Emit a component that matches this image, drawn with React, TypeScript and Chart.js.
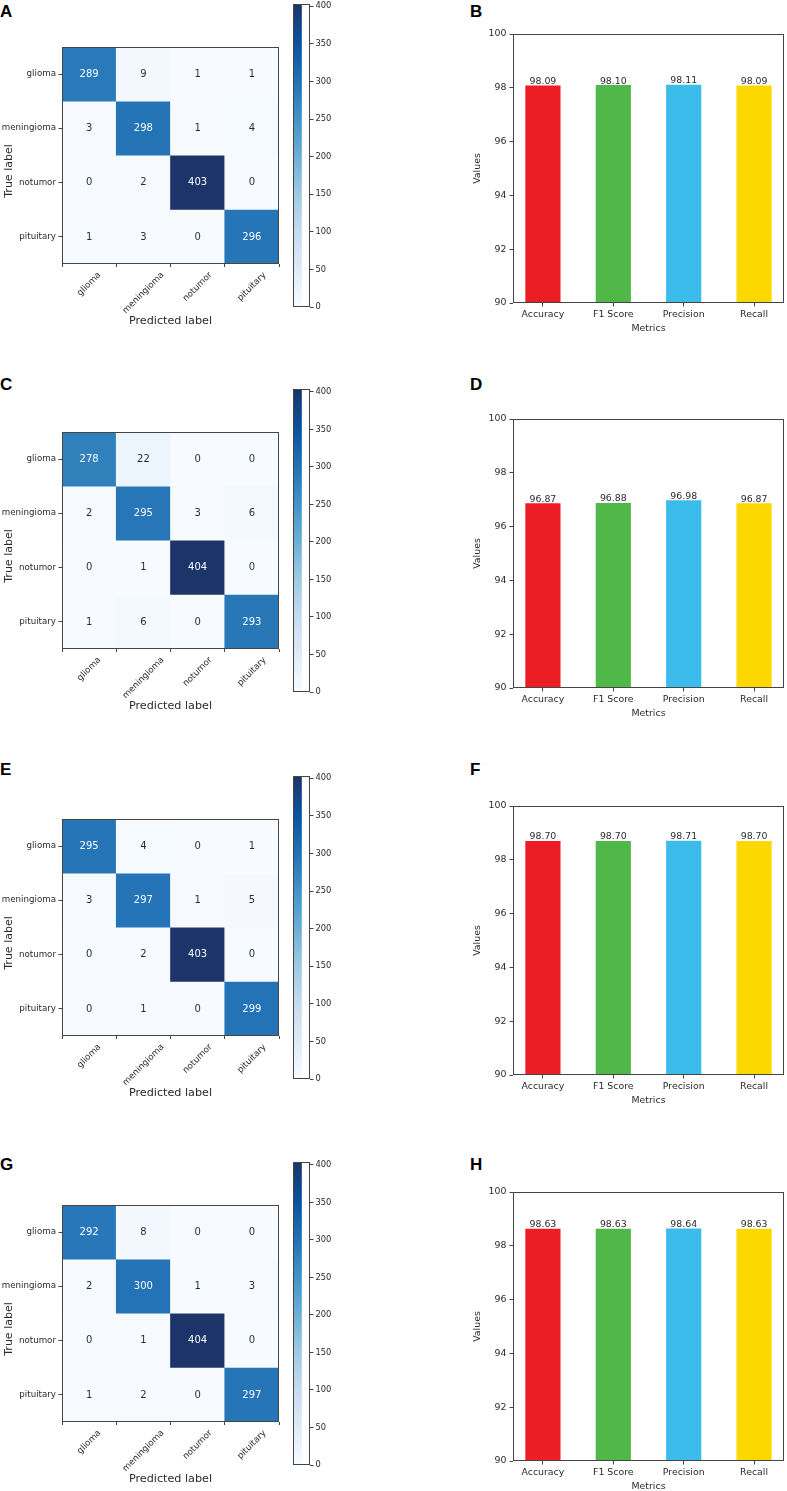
import React, { useEffect, useRef } from 'react';
import { Chart, registerables } from 'chart.js';

Chart.register(...registerables);

// ---------- data ----------
const classLabels = ['glioma', 'meningioma', 'notumor', 'pituitary'];
const matrixA = [
  [289, 9, 1, 1],
  [3, 298, 1, 4],
  [0, 2, 403, 0],
  [1, 3, 0, 296],
];
const matrixC = [
  [278, 22, 0, 0],
  [2, 295, 3, 6],
  [0, 1, 404, 0],
  [1, 6, 0, 293],
];
const matrixE = [
  [295, 4, 0, 1],
  [3, 297, 1, 5],
  [0, 2, 403, 0],
  [0, 1, 0, 299],
];
const matrixG = [
  [292, 8, 0, 0],
  [2, 300, 1, 3],
  [0, 1, 404, 0],
  [1, 2, 0, 297],
];
const colorbarTicks = [0, 50, 100, 150, 200, 250, 300, 350, 400];

const metricLabels = ['Accuracy', 'F1 Score', 'Precision', 'Recall'];
const metricsB = [98.09, 98.1, 98.11, 98.09];
const metricsD = [96.87, 96.88, 96.98, 96.87];
const metricsF = [98.7, 98.7, 98.71, 98.7];
const metricsH = [98.63, 98.63, 98.64, 98.63];
const metricTicks = [90, 92, 94, 96, 98, 100];
const barColors = ['#ED1D25', '#50B848', '#3BBCEB', '#FDD800'];

const panelLetters = [
  ['A', 'B'],
  ['C', 'D'],
  ['E', 'F'],
  ['G', 'H'],
];

// ---------- layout / style ----------
const FONT = "'DejaVu Sans', sans-serif";
const TEXT = '#2a2a2a';
const FRAME = '#454545';
const rowTops = [47, 432, 819, 1205]; // top of each confusion matrix
const letterTops = [5, 378, 763, 1158];

const BLUES = [
  [247, 251, 255],
  [222, 235, 247],
  [198, 219, 239],
  [158, 202, 225],
  [107, 174, 214],
  [66, 146, 198],
  [33, 113, 181],
  [10, 82, 156],
  [28, 52, 106],
];
function blues(t: number): string {
  const tt = Math.max(0, Math.min(1, t));
  const p = tt * 8;
  const i = Math.min(7, Math.floor(p));
  const f = p - i;
  const a = BLUES[i];
  const b = BLUES[i + 1];
  const c = [0, 1, 2].map((k) => Math.round(a[k] + (b[k] - a[k]) * f));
  return `rgb(${c[0]},${c[1]},${c[2]})`;
}

const framePlugin = {
  id: 'frame',
  afterDraw(chart: any) {
    const { ctx, chartArea: a } = chart;
    ctx.save();
    ctx.strokeStyle = FRAME;
    ctx.lineWidth = 1;
    ctx.strokeRect(Math.round(a.left) + 0.5, Math.round(a.top) + 0.5, Math.round(a.right - a.left) - 1, Math.round(a.bottom - a.top) - 1);
    ctx.restore();
  },
};

function ChartCanvas({ left, top, width, height, make }: { left: number; top: number; width: number; height: number; make: () => any }) {
  const ref = useRef<HTMLCanvasElement>(null);
  useEffect(() => {
    if (!ref.current) return;
    const ch = new Chart(ref.current, make());
    return () => ch.destroy();
  }, []);
  return (
    <canvas
      ref={ref}
      width={width}
      height={height}
      style={{ position: 'absolute', left, top, width, height, display: 'block' }}
    />
  );
}

function matrixConfig(matrix: number[][]) {
  const vmax = Math.max(...matrix.flat());
  const tickFont = 8.7;
  return {
    type: 'bar',
    data: {
      labels: classLabels,
      datasets: matrix.map((row, r) => ({
        data: row.map(() => [r - 0.5, r + 0.5]),
        backgroundColor: row.map((v) => blues(v / vmax)),
        borderWidth: 0,
        borderSkipped: false,
        barPercentage: 1,
        categoryPercentage: 1,
        grouped: false,
      })),
    },
    options: {
      animation: false,
      responsive: false,
      maintainAspectRatio: false,
      layout: { padding: { top: 40, left: 0, right: 11, bottom: 0 } },
      plugins: { legend: { display: false }, tooltip: { enabled: false } },
      scales: {
        x: {
          type: 'category',
          offset: true,
          grid: { display: true, drawOnChartArea: false, drawTicks: true, tickLength: 3.5, color: FRAME },
          border: { display: false },
          ticks: { display: false },
          title: { display: true, text: 'Predicted label', color: TEXT, font: { family: FONT, size: 11.2 }, padding: 0 },
          afterFit: (s: any) => {
            s.height = 64.5;
          },
        },
        y: {
          type: 'linear',
          min: -0.5,
          max: 3.5,
          reverse: true,
          afterBuildTicks: (s: any) => {
            s.ticks = classLabels.map((_, i) => ({ value: i }));
          },
          ticks: {
            callback: (v: number) => classLabels[v],
            color: TEXT,
            font: { family: FONT, size: tickFont },
            padding: 2.5,
            autoSkip: false,
          },
          grid: { display: true, drawOnChartArea: false, drawTicks: true, tickLength: 3.5, color: FRAME },
          border: { display: false },
          afterFit: (s: any) => {
            s.width = 62;
          },
        },
      },
    },
    plugins: [
      framePlugin,
      {
        id: 'cellText',
        afterDatasetsDraw(chart: any) {
          const ctx = chart.ctx;
          ctx.save();
          ctx.font = `10px ${FONT}`;
          ctx.textAlign = 'center';
          ctx.textBaseline = 'middle';
          matrix.forEach((row, r) => {
            const meta = chart.getDatasetMeta(r);
            row.forEach((v, c) => {
              const el = meta.data[c];
              ctx.fillStyle = v > vmax / 2 ? blues(0) : '#1c2c4c';
              ctx.fillText(String(v), el.x, (el.y + el.base) / 2 + 0.5);
            });
          });
          ctx.restore();
        },
      },
      {
        id: 'rotatedLabels',
        afterDraw(chart: any) {
          const { ctx, chartArea } = chart;
          const xs = chart.scales.x;
          ctx.save();
          ctx.font = `${tickFont}px ${FONT}`;
          ctx.fillStyle = TEXT;
          ctx.textAlign = 'center';
          ctx.textBaseline = 'middle';
          classLabels.forEach((lab, i) => {
            const x = xs.getPixelForTick(i);
            const w = ctx.measureText(lab).width;
            const h = tickFont * 1.05;
            const bb = (w + h) * Math.SQRT1_2;
            const cy = chartArea.bottom + 7 + bb / 2;
            ctx.save();
            ctx.translate(x, cy);
            ctx.rotate(-Math.PI / 4);
            ctx.fillText(lab, 0, 0);
            ctx.restore();
          });
          // y axis title
          ctx.font = `11px ${FONT}`;
          ctx.save();
          ctx.translate(9, chartArea.top + 124);
          ctx.rotate(-Math.PI / 2);
          ctx.fillText('True label', 0, 0);
          ctx.restore();
          ctx.restore();
        },
      },
    ],
  };
}

function colorbarConfig(matrix: number[][]) {
  const vmax = Math.max(...matrix.flat());
  return {
    type: 'bar',
    data: {
      labels: [''],
      datasets: [
        {
          data: [[0, vmax]],
          backgroundColor: (c: any) => {
            const a = c.chart.chartArea;
            if (!a) return blues(0.5);
            const g = c.chart.ctx.createLinearGradient(0, a.bottom, 0, a.top);
            BLUES.forEach((col, i) => g.addColorStop(i / 8, `rgb(${col[0]},${col[1]},${col[2]})`));
            return g;
          },
          borderWidth: 0,
          borderSkipped: false,
          barPercentage: 1,
          categoryPercentage: 1,
        },
      ],
    },
    options: {
      animation: false,
      responsive: false,
      maintainAspectRatio: false,
      layout: { padding: { top: 4, left: 8, right: 0, bottom: 10 } },
      plugins: { legend: { display: false }, tooltip: { enabled: false } },
      scales: {
        x: { display: false, offset: false },
        y: {
          position: 'right',
          min: 0,
          max: vmax,
          afterBuildTicks: (s: any) => {
            s.ticks = colorbarTicks.map((v) => ({ value: v }));
          },
          ticks: { color: TEXT, font: { family: FONT, size: 8.3 }, padding: 2 },
          grid: { display: true, drawOnChartArea: false, drawTicks: true, tickLength: 3.5, color: FRAME },
          border: { display: false },
          afterFit: (s: any) => {
            s.width = 25;
          },
        },
      },
    },
    plugins: [framePlugin],
  };
}

function metricsConfig(values: number[]) {
  const f = 9.4;
  return {
    type: 'bar',
    data: {
      datasets: [
        {
          data: values.map((v, i) => ({ x: i, y: v })),
          backgroundColor: barColors,
          borderWidth: 0,
          barPercentage: 0.5,
          categoryPercentage: 1,
        },
      ],
    },
    options: {
      animation: false,
      responsive: false,
      maintainAspectRatio: false,
      layout: { padding: { top: 34, left: 32, right: 3, bottom: 0 } },
      plugins: { legend: { display: false }, tooltip: { enabled: false } },
      scales: {
        x: {
          type: 'linear',
          offset: false,
          min: -0.425,
          max: 3.425,
          afterBuildTicks: (s: any) => {
            s.ticks = metricLabels.map((_, i) => ({ value: i }));
          },
          ticks: {
            callback: (v: number) => metricLabels[v],
            color: TEXT,
            font: { family: FONT, size: f },
            padding: 2,
            maxRotation: 0,
            minRotation: 0,
            autoSkip: false,
          },
          grid: { display: true, offset: false, drawOnChartArea: false, drawTicks: true, tickLength: 3.5, color: FRAME },
          border: { display: false },
          title: { display: true, text: 'Metrics', color: TEXT, font: { family: FONT, size: f }, padding: 0 },
          afterFit: (s: any) => {
            s.height = 31;
          },
        },
        y: {
          min: 90,
          max: 100,
          afterBuildTicks: (s: any) => {
            s.ticks = metricTicks.map((v) => ({ value: v }));
          },
          ticks: { color: TEXT, font: { family: FONT, size: f }, padding: 3 },
          grid: { display: true, drawOnChartArea: false, drawTicks: true, tickLength: 3.5, color: FRAME },
          border: { display: false },
          title: { display: true, text: 'Values', color: TEXT, font: { family: FONT, size: f }, padding: 0 },
          afterFit: (s: any) => {
            s.width = 41;
          },
        },
      },
    },
    plugins: [
      framePlugin,
      {
        id: 'valueLabels',
        afterDatasetsDraw(chart: any) {
          const ctx = chart.ctx;
          const meta = chart.getDatasetMeta(0);
          ctx.save();
          ctx.font = `${f}px ${FONT}`;
          ctx.fillStyle = TEXT;
          ctx.textAlign = 'center';
          ctx.textBaseline = 'alphabetic';
          meta.data.forEach((el: any, i: number) => {
            ctx.fillText(values[i].toFixed(2), el.x, el.y - 1.5);
          });
          ctx.restore();
        },
      },
    ],
  };
}

const matrices = [matrixA, matrixC, matrixE, matrixG];
const metricSets = [metricsB, metricsD, metricsF, metricsH];

function Letter({ text, left, top }: { text: string; left: number; top: number }) {
  return (
    <div
      style={{
        position: 'absolute',
        left,
        top,
        fontFamily: "'Liberation Sans', Arial, sans-serif",
        fontWeight: 'bold',
        fontSize: 17,
        lineHeight: 1,
        color: '#000',
      }}
    >
      {text}
    </div>
  );
}

export default function App() {
  return (
    <div style={{ position: 'absolute', left: 0, top: 0, width: 787, height: 1491, background: '#fff', overflow: 'hidden' }}>
      {rowTops.map((T, i) => (
        <React.Fragment key={i}>
          <Letter text={panelLetters[i][0]} left={0} top={letterTops[i] - 2} />
          <Letter text={panelLetters[i][1]} left={470} top={letterTops[i] - 2} />
          <ChartCanvas left={0} top={T - 40} width={290} height={321} make={() => matrixConfig(matrices[i])} />
          <ChartCanvas left={285} top={T - 50} width={50} height={320} make={() => colorbarConfig(matrices[i])} />
          <ChartCanvas left={440} top={T - 13 - 34} width={347} height={334} make={() => metricsConfig(metricSets[i])} />
        </React.Fragment>
      ))}
    </div>
  );
}
